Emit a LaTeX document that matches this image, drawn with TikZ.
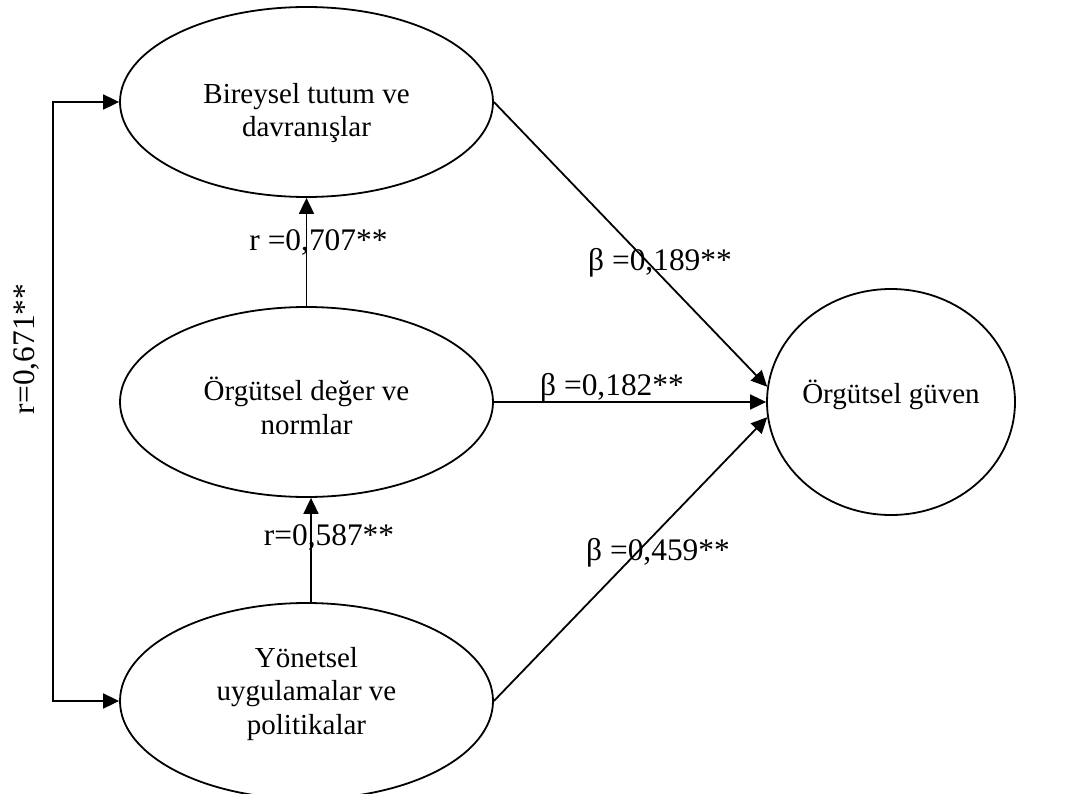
\documentclass[tikz,border=0pt]{standalone}
\usepackage{fontspec}
\setmainfont{Liberation Serif}
\usetikzlibrary{arrows.meta,shapes.geometric,calc}
\begin{document}
\begin{tikzpicture}[x=1pt,y=-1pt,
  ell/.style={draw,ellipse,line width=1.8pt,inner sep=0pt},
  etext/.style={font=\fontsize{29}{33.5}\selectfont,anchor=base,inner sep=0pt},
  lab/.style={font=\fontsize{31.4}{36}\selectfont,anchor=base,inner sep=0pt},
  tip/.tip={Triangle[length=16pt,width=15pt]},
  conn/.style={line width=1.8pt,-tip},
  biconn/.style={line width=1.8pt,tip-tip}]
\useasboundingbox (0,0) rectangle (1075,794);

% ellipses
\node[ell,minimum width=373pt,minimum height=190pt] (e1) at (306.5,102) {};
\node[ell,minimum width=373pt,minimum height=190pt] (e2) at (306.5,402) {};
\node[ell,minimum width=373pt,minimum height=196pt] (e3) at (306.5,701) {};
\node[ell,minimum width=248pt,minimum height=226pt] (e4) at (891,402) {};

% ellipse texts
\node[etext] (t1a) at (306.5,103.5) {Bireysel tutum ve};
\node[etext] (t1b) at (306.5,137) {davranışlar};
\node[etext] (t2a) at (306.5,400) {Örgütsel değer ve};
\node[etext] (t2b) at (306.5,434) {normlar};
\node[etext] (t3a) at (306.5,667) {Yönetsel};
\node[etext] (t3b) at (306.5,700.5) {uygulamalar ve};
\node[etext] (t3c) at (306.5,734) {politikalar};
\node[etext] (t4) at (891,403) {Örgütsel güven};

% connectors
\draw[conn] (e2.north) -- (e1.south);
\draw[conn] ([xshift=4.5pt]e3.north) -- ([xshift=4.5pt]e2.south);
\draw[conn] (e1.east) -- (e4.173);
\draw[conn] (e2.east) -- (e4.west);
\draw[conn] (e3.east) -- (e4.187);
\coordinate (lc) at (53,400);
\draw[biconn] (e1.west) -- (e1.west -| lc) -- (e3.west -| lc) -- (e3.west);

% labels
\node[lab] (l1) at (318.5,251) {r =0,707**};
\node[lab] (l2) at (329,545) {r=0,587**};
\node[lab] (l3) at (660,270) {β =0,189**};
\node[lab] (l4) at (612,395) {β =0,182**};
\node[lab] (l5) at (658,560) {β =0,459**};
\node[lab,rotate=90] (l6) at (34,349) {r=0,671**};
\end{tikzpicture}
\end{document}
